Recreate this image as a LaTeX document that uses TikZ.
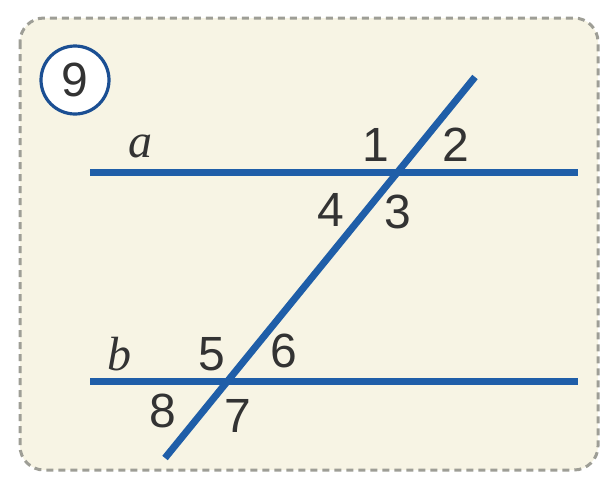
\documentclass[tikz,border=0pt]{standalone}
\usepackage{fontspec}
\setmainfont{Liberation Sans}
\newfontfamily\letterfont{Liberation Serif}
\usetikzlibrary{positioning}

\definecolor{cream}{HTML}{F7F4E4}
\definecolor{lineblue}{HTML}{1F5EA8}
\definecolor{ringblue}{HTML}{1B4F93}
\definecolor{framegray}{HTML}{9E9E96}
\definecolor{numgray}{HTML}{333333}

\begin{document}
\begin{tikzpicture}[
      x=0.5pt, y=-0.5pt,
      frame/.style={draw=framegray, fill=cream, line width=1.5pt,
      dash pattern=on 3.5pt off 2.5pt, rounded corners=12pt},
      line/.style={draw=lineblue, line width=3.5pt},
      num/.style={text=numgray, inner sep=0pt,
      font=\fontsize{24}{24}\selectfont},
      letter/.style={text=numgray, inner sep=0pt,
      font=\letterfont\itshape\fontsize{24}{24}\selectfont},
      ring/.style={circle, draw=ringblue, fill=white, line width=1.6pt,
      minimum size=34pt, inner sep=0pt, text=numgray,
      font=\fontsize{24}{24}\selectfont}
    ]
    \useasboundingbox (0,0) rectangle (608,477);
    \path [frame] (20,18) rectangle (598,470);

    \node [ring] (task) at (75,80) {9};

    % the two parallel lines and the transversal
    \coordinate (a1) at (90,172);
    \coordinate (a2) at (578,172);
    \coordinate (b1) at (90,381);
    \coordinate (b2) at (578,381);
    \coordinate (t1) at (165,458);
    \coordinate (t2) at (475,77);

    \path [line] (a1) -- (a2);
    \path [line] (b1) -- (b2);
    \path [line] (t1) -- (t2);

    \node [letter] (la) at (140,146) {a};
    \node [letter] (lb) at (119,354) {b};

    \node [num] (n1) at (376,145) {1};
    \node [num] (n2) at (456,145) {2};
    \node [num] (n3) at (398,212) {3};
    \node [num] (n4) at (331,210) {4};
    \node [num] (n5) at (212,354) {5};
    \node [num] (n6) at (284,351) {6};
    \node [num] (n7) at (238,416) {7};
    \node [num] (n8) at (163,411) {8};
  \end{tikzpicture}
\end{document}
